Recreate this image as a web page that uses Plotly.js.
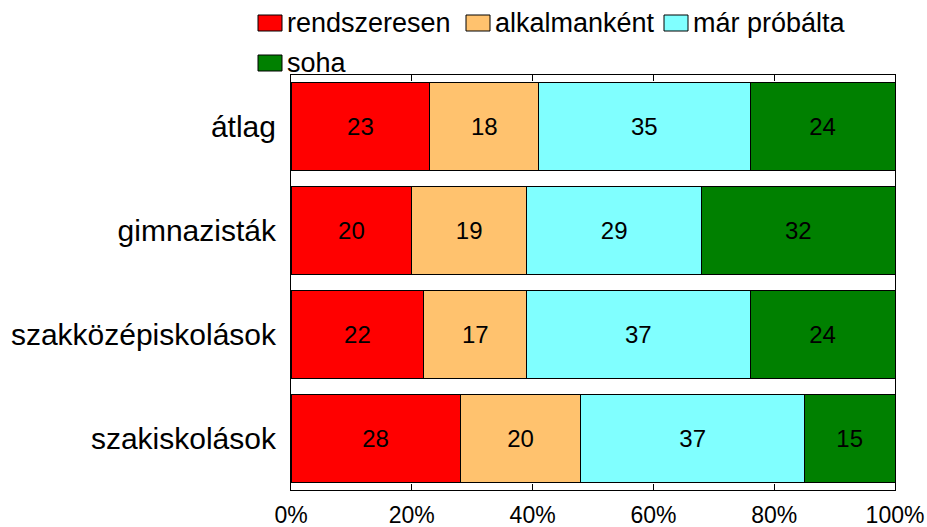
<!DOCTYPE html>
<html>
<head>
<meta charset="utf-8">
<script src="https://cdn.plot.ly/plotly-3.0.1.min.js"></script>
<style>html,body{margin:0;padding:0;background:#fff;}#chart{width:927px;height:527px;}</style>
</head>
<body>
<div id="chart"></div>
<script>
const categories = ["átlag", "gimnazisták", "szakközépiskolások", "szakiskolások"];
const seriesNames = ["rendszeresen", "alkalmanként", "már próbálta", "soha"];
const rendszeresen = [23, 20, 22, 28];
const alkalmankent = [18, 19, 17, 20];
const marProbalta = [35, 29, 37, 37];
const soha = [24, 32, 24, 15];
const tickValues = [0, 20, 40, 60, 80, 100];
const tickLabels = ["0%", "20%", "40%", "60%", "80%", "100%"];
const colors = ["#FF0000", "#FFC26E", "#80FFFF", "#008000"];

const seriesValues = [rendszeresen, alkalmankent, marProbalta, soha];
const font = "'Liberation Sans', Arial, sans-serif";

const traces = seriesValues.map((vals, i) => ({
  type: "bar",
  orientation: "h",
  name: seriesNames[i],
  x: vals,
  y: categories,
  marker: {color: colors[i], line: {color: "#000", width: 1}},
  text: vals.map(String),
  texttemplate: "%{text}",
  textposition: "inside",
  insidetextanchor: "middle",
  constraintext: "none",
  textfont: {family: font, size: 24, color: "#000"},
  showlegend: false,
  hoverinfo: "skip"
}));

// custom legend (paper coords relative to plot area 291..895 x, 75..490 y)
const W = 604, H = 415, L = 291, B = 490;
const px = X => (X - L) / W;
const py = Y => (B - Y) / H;
const legendPos = [[258, 23], [466, 23], [664, 23], [258, 63]];
const shapes = [];
const annotations = [];
legendPos.forEach((p, i) => {
  shapes.push({type: "rect", xref: "paper", yref: "paper",
    x0: px(p[0]), x1: px(p[0] + 24), y0: py(p[1] - 8), y1: py(p[1] + 8),
    fillcolor: colors[i], line: {color: "#000", width: 1}});
  annotations.push({xref: "paper", yref: "paper", x: px(p[0] + 27), y: py(p[1]),
    xanchor: "left", yanchor: "middle", showarrow: false, text: seriesNames[i],
    font: {family: font, size: 27, color: "#000"}});
});

const layout = {
  width: 927, height: 527,
  margin: {l: 291, r: 32, t: 75, b: 37, pad: 0},
  paper_bgcolor: "#fff", plot_bgcolor: "#fff",
  barmode: "stack",
  bargap: 0.15,
  showlegend: false,
  xaxis: {
    range: [0, 100], tickvals: tickValues, ticktext: tickLabels,
    ticks: "inside", ticklen: 6, tickcolor: "#000", tickwidth: 1, mirror: "ticks",
    showline: true, linecolor: "#000", linewidth: 1, showgrid: false, zeroline: false,
    tickfont: {family: font, size: 23, color: "#000"}, ticklabelstandoff: 4, fixedrange: true
  },
  yaxis: {
    autorange: "reversed",
    showline: true, mirror: true, linecolor: "#000", linewidth: 1,
    ticks: "", showgrid: false,
    tickfont: {family: font, size: 30, color: "#000"}, ticklabelstandoff: 8, fixedrange: true
  },
  shapes: shapes,
  annotations: annotations
};

Plotly.newPlot("chart", traces, layout, {displayModeBar: false, staticPlot: true});
</script>
</body>
</html>
